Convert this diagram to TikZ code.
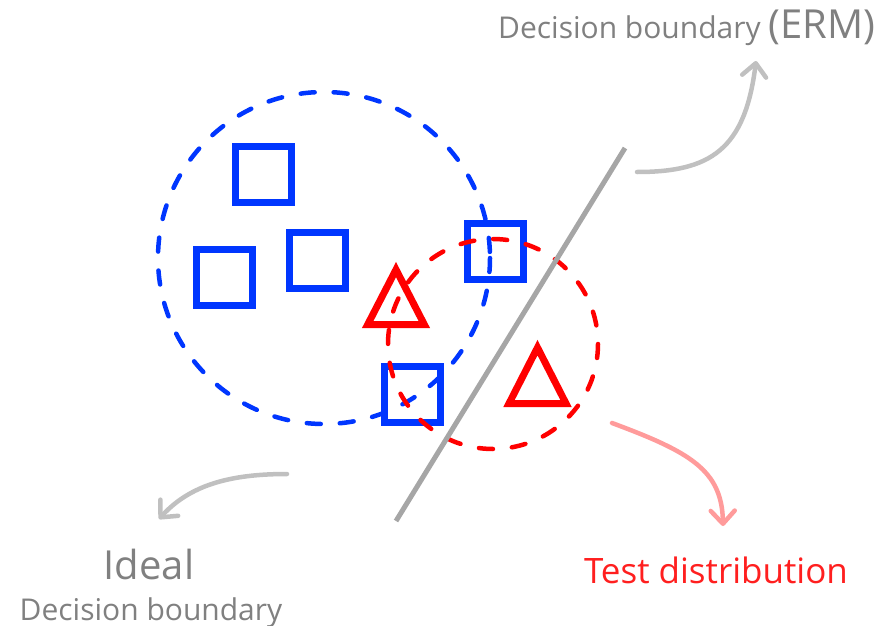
\documentclass[tikz,border=0pt]{standalone}
\usepackage{fontspec}
\setmainfont{Open Sans}
\usetikzlibrary{arrows.meta}
\definecolor{sqblue}{HTML}{0036FF}
\definecolor{trired}{HTML}{FF0000}
\definecolor{bline}{HTML}{A6A6A6}
\definecolor{agrey}{HTML}{C0C0C0}
\definecolor{apink}{HTML}{FF9B9B}
\definecolor{tgrey}{HTML}{808080}
\definecolor{tred}{HTML}{FF1F1F}
\tikzset{
  sample/.style={draw=sqblue, line width=7pt, minimum size=56pt, inner sep=0pt, rectangle},
  tri/.style={draw=trired, line width=7pt, line join=miter},
  distcirc/.style={line width=4.5pt, dash pattern=on 14pt off 19pt, line cap=round},
  callout/.style={line width=4.5pt, line cap=round, -{Straight Barb[length=13pt,width=24pt,round]}},
  lbl/.style={inner sep=0pt, anchor=base west}
}
\begin{document}
\begin{tikzpicture}[x=1pt,y=-1pt]
\useasboundingbox (0,0) rectangle (891,626);
% squares
\node[sample] (s1) at (263.5,174.5) {};
\node[sample] (s2) at (224,277) {};
\node[sample] (s3) at (317.5,260.5) {};
\node[sample] (s4) at (495,251) {};
\node[sample] (s5) at (412,394) {};
% triangles
\coordinate (t1) at (396,297);
\coordinate (t2) at (537.5,376);
\draw[tri] (396,269.6) -- (424.3,324.5) -- (367.7,324.5) -- cycle;
\draw[tri] (537.5,347.6) -- (566,403.5) -- (509,403.5) -- cycle;
% distributions
\coordinate (train) at (324,258);
\coordinate (test) at (493,344);
\draw[distcirc, draw=sqblue] (train) circle (166);
\draw[distcirc, draw=trired] (test) circle (105);
% ERM boundary
\coordinate (b1) at (625,148);
\coordinate (b2) at (396,521);
\draw[bline, line width=5pt] (b1) -- (b2);
% labels
\node[lbl, text=tgrey] (erm) at (498,39) {\fontsize{30}{36}\selectfont Decision boundary \fontsize{40}{46}\selectfont(ERM)};
\node[inner sep=0pt, anchor=base, text=tgrey] (ideal) at (149,579) {\fontsize{40}{46}\selectfont Ideal};
\node[inner sep=0pt, anchor=base, text=tgrey] (idealsub) at (151,620) {\fontsize{30}{36}\selectfont Decision boundary};
\node[inner sep=0pt, anchor=base, text=tred] (testlbl) at (716,583) {\fontsize{35}{42}\selectfont Test distribution};
% callout arrows
\coordinate (a1s) at (637,172);
\coordinate (a1e) at (756,61);
\draw[callout, draw=agrey] (a1s) .. controls (710,172) and (745,150) .. (a1e);
\coordinate (a2s) at (287,474);
\coordinate (a2e) at (159,519);
\draw[callout, draw=agrey] (a2s) .. controls (230,474) and (190,485) .. (a2e);
\coordinate (a3s) at (612,423);
\coordinate (a3e) at (723,526);
\draw[callout, draw=apink] (a3s) .. controls (690,452) and (722,470) .. (a3e);
\end{tikzpicture}
\end{document}
